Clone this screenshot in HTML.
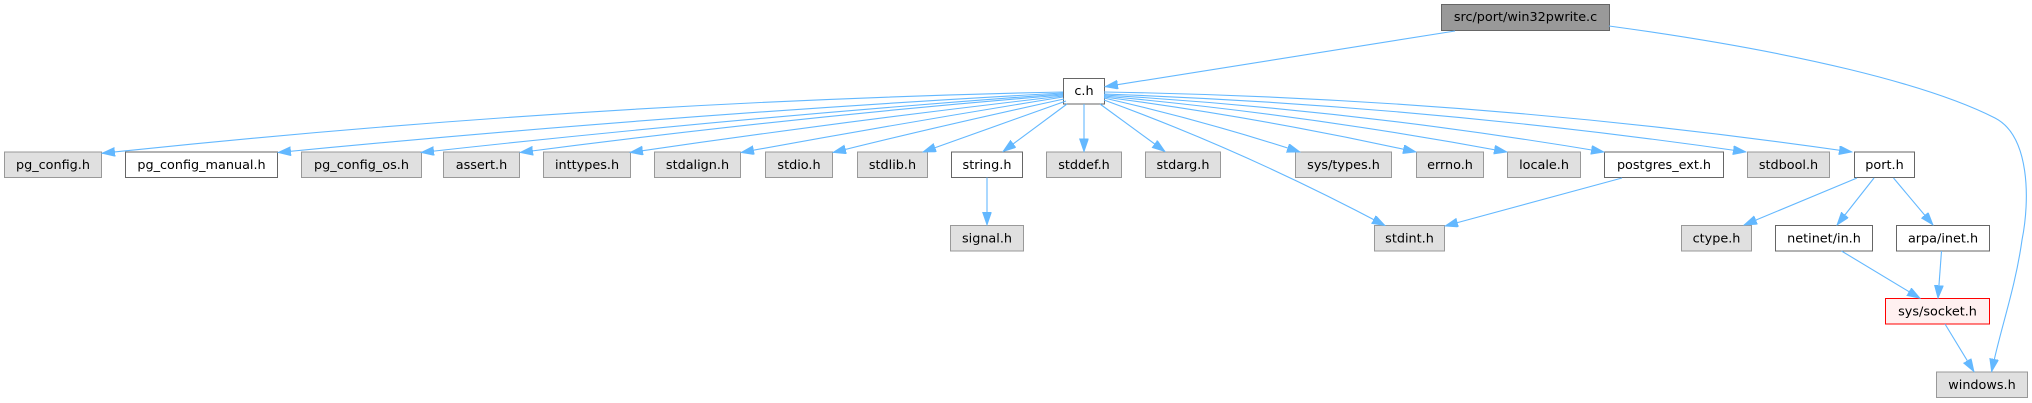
<!DOCTYPE html>
<html>
<head>
<meta charset="utf-8">
<style>
  html, body { margin: 0; padding: 0; background: #ffffff; }
  body { width: 2032px; height: 403px; overflow: hidden; }
  svg { display: block; }
  text { font-family: "DejaVu Sans", "Liberation Sans", sans-serif; font-size: 12.8px; fill: #000; text-anchor: middle; }
  .g { fill: #e0e0e0; stroke: #999999; stroke-width: 1; }
  .w { fill: #ffffff; stroke: #666666; stroke-width: 1; }
  .r { fill: #fff0f0; stroke: #ff0000; stroke-width: 1; }
  .root { fill: #999999; stroke: #666666; stroke-width: 1; }
  .e { fill: none; stroke: #63b8ff; stroke-width: 1.1; marker-end: url(#ah); }
</style>
</head>
<body>
<svg width="2032" height="403" viewBox="0 0 2032 403" xmlns="http://www.w3.org/2000/svg">
  <defs>
    <marker id="ah" markerUnits="userSpaceOnUse" markerWidth="14" markerHeight="10" refX="13" refY="4.5" orient="auto">
      <path d="M0,0 L13,4.5 L0,9 z" fill="#63b8ff" stroke="#63b8ff" stroke-width="0.8"/>
    </marker>
  </defs>

  <!-- nodes -->
  <rect class="root" x="1441.5" y="4.5" width="168" height="26"/>
  <text x="1525.5" y="21">src/port/win32pwrite.c</text>

  <rect class="w" x="1063.5" y="78.5" width="41" height="25.5"/>
  <text x="1084" y="95">c.h</text>

  <!-- row 2 -->
  <rect class="g" x="4.5" y="152" width="97" height="25.5"/>
  <text x="53" y="169">pg_config.h</text>
  <rect class="w" x="125.5" y="152" width="152" height="25.5"/>
  <text x="201.5" y="169">pg_config_manual.h</text>
  <rect class="g" x="301.5" y="152" width="120" height="25.5"/>
  <text x="361.5" y="169">pg_config_os.h</text>
  <rect class="g" x="443.5" y="152" width="76" height="25.5"/>
  <text x="481.5" y="169">assert.h</text>
  <rect class="g" x="543.5" y="152" width="87" height="25.5"/>
  <text x="587" y="169">inttypes.h</text>
  <rect class="g" x="654.5" y="152" width="86" height="25.5"/>
  <text x="697.5" y="169">stdalign.h</text>
  <rect class="g" x="765.5" y="152" width="67" height="25.5"/>
  <text x="799" y="169">stdio.h</text>
  <rect class="g" x="857.5" y="152" width="70" height="25.5"/>
  <text x="892.5" y="169">stdlib.h</text>
  <rect class="w" x="951.5" y="152" width="71" height="25.5"/>
  <text x="987" y="169">string.h</text>
  <rect class="g" x="1046.5" y="152" width="75" height="25.5"/>
  <text x="1084" y="169">stddef.h</text>
  <rect class="g" x="1145.5" y="152" width="75" height="25.5"/>
  <text x="1183" y="169">stdarg.h</text>
  <rect class="g" x="1295.5" y="152" width="96" height="25.5"/>
  <text x="1343.5" y="169">sys/types.h</text>
  <rect class="g" x="1416.5" y="152" width="67" height="25.5"/>
  <text x="1450" y="169">errno.h</text>
  <rect class="g" x="1507.5" y="152" width="73" height="25.5"/>
  <text x="1544" y="169">locale.h</text>
  <rect class="w" x="1604.5" y="152" width="119" height="25.5"/>
  <text x="1664" y="169">postgres_ext.h</text>
  <rect class="g" x="1747.5" y="152" width="82" height="25.5"/>
  <text x="1788.5" y="169">stdbool.h</text>
  <rect class="w" x="1854.5" y="152" width="60" height="25.5"/>
  <text x="1884.5" y="169">port.h</text>

  <!-- row 3 -->
  <rect class="g" x="950.5" y="225.5" width="73" height="25.5"/>
  <text x="987" y="242.3">signal.h</text>
  <rect class="g" x="1374.5" y="225.5" width="70" height="25.5"/>
  <text x="1409.5" y="242.3">stdint.h</text>
  <rect class="g" x="1681.5" y="225.5" width="70" height="25.5"/>
  <text x="1716.5" y="242.3">ctype.h</text>
  <rect class="w" x="1775.5" y="225.5" width="97" height="25.5"/>
  <text x="1824" y="242.3">netinet/in.h</text>
  <rect class="w" x="1896.5" y="225.5" width="93" height="25.5"/>
  <text x="1943" y="242.3">arpa/inet.h</text>

  <!-- row 4 -->
  <rect class="r" x="1885.5" y="298.5" width="104" height="25.5"/>
  <text x="1937.5" y="315.3">sys/socket.h</text>

  <!-- row 5 -->
  <rect class="g" x="1936.5" y="372" width="91" height="25.5"/>
  <text x="1982" y="388.8">windows.h</text>

  <!-- edges -->
  <path class="e" d="M1455,31 L1105,86.7"/>
  <path class="e" d="M1609,26 C1800,52 1930,85 1995,118 C2030,136 2030,200 2022,240 C2015,290 2000,330 1991.6,371.7"/>

  <path class="e" d="M1063,92 Q581.5,102.3 102,153.3"/>
  <path class="e" d="M1063,93 Q670.5,114.5 278,152.5"/>
  <path class="e" d="M1063,94 Q742,117 421,152.5"/>
  <path class="e" d="M1063,95 Q791.5,117 520,152.5"/>
  <path class="e" d="M1063,96 Q846,121 630,152.5"/>
  <path class="e" d="M1063,97 Q902,123 741,152.5"/>
  <path class="e" d="M1064,99 Q948,124 833,152.5"/>
  <path class="e" d="M1066,101 L923,152"/>
  <path class="e" d="M1067,104 L1003,151.5"/>
  <path class="e" d="M1084,104 L1084,151.7"/>
  <path class="e" d="M1100,104 L1165,151.5"/>
  <path class="e" d="M1104,98 Q1205,121 1300,152"/>
  <path class="e" d="M1104,97 Q1260,117.5 1416,152"/>
  <path class="e" d="M1104,96 Q1305.5,114.5 1507,152"/>
  <path class="e" d="M1104,95 Q1354,110 1604,152"/>
  <path class="e" d="M1104,94 Q1425,105.5 1746,152"/>
  <path class="e" d="M1104,92 Q1478,98 1852,152"/>
  <path class="e" d="M1104,100 Q1244.5,151 1385,225.5"/>

  <path class="e" d="M987,177.5 L987,225"/>
  <path class="e" d="M1622,178 L1445,226"/>
  <path class="e" d="M1857,178 L1744,225"/>
  <path class="e" d="M1874,178 L1837,225"/>
  <path class="e" d="M1893.5,178 L1933,225"/>
  <path class="e" d="M1841.5,251 L1920,298.3"/>
  <path class="e" d="M1941.5,251 L1938,298.3"/>
  <path class="e" d="M1945,324 L1974,371.7"/>
</svg>
</body>
</html>
